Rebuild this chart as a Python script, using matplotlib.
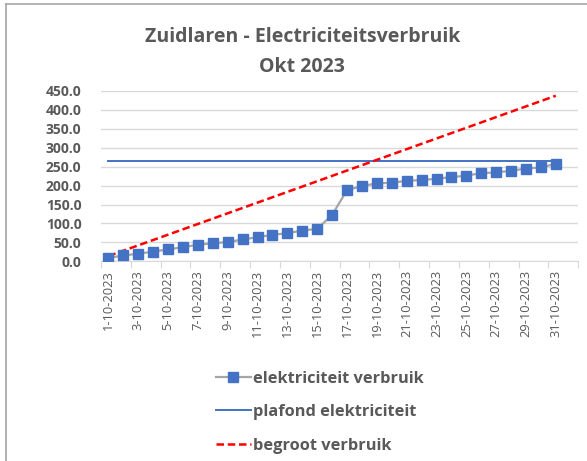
import numpy as np
import matplotlib.pyplot as plt
from matplotlib.lines import Line2D

plt.rcParams['font.family'] = ['Open Sans', 'DejaVu Sans']

# categories: 1-10-2023 .. 1-11-2023 (last one empty)
dagen = ['%d-10-2023' % d for d in range(1, 32)] + ['1-11-2023']

verbruik = [8.8, 15.8, 20.0, 26.0, 31.5, 37.6, 43.8, 48.0, 50.8, 57.8,
            64.0, 70.0, 74.4, 81.4, 85.8, 122.6, 188.0, 198.7, 205.7, 207.5,
            212.7, 214.5, 218.0, 222.4, 226.0, 233.0, 234.6, 239.0, 245.0,
            247.8, 257.4]
plafond = [266.0] * 31
begroot = [14.1, 28.2, 42.3, 56.4, 70.5, 84.6, 98.7, 112.8, 126.9, 141.0,
           155.1, 169.2, 183.3, 197.4, 211.5, 225.6, 239.7, 253.8, 267.9, 282.0,
           296.1, 310.2, 324.3, 338.4, 352.5, 366.6, 380.7, 394.8, 408.9, 423.0,
           437.1]

grijs = '#595959'

fig = plt.figure(figsize=(5.87, 4.61), dpi=100)
ax = fig.add_axes([0.172, 0.433, 0.813, 0.370])

x = np.arange(len(verbruik))
ax.plot(x, verbruik, color='#A5A5A5', lw=1.6, marker='s', ms=6.5,
        mfc='#4472C4', mec='#4472C4', label='elektriciteit verbruik', zorder=3)
ax.plot(x, plafond, color='#4472C4', lw=1.4, label='plafond elektriciteit', zorder=2)
ax.plot(x, begroot, color='#FF0000', lw=1.8, ls=(0, (3, 1.5)),
        label='begroot verbruik', zorder=2)

ax.set_xlim(-0.5, len(dagen) - 0.5)
ax.set_ylim(0, 450)
ax.set_yticks(np.arange(0, 451, 50))
ax.set_yticklabels(['%.1f' % v for v in np.arange(0, 451, 50)],
                   fontweight='bold', fontsize=10, color=grijs)
ax.tick_params(axis='y', length=0, pad=14)
ax.grid(axis='y', color='#D9D9D9', lw=1)
ax.set_axisbelow(True)

# tick marks between categories, labels every 2nd day
ax.set_xticks(np.arange(-0.5, len(dagen), 2))
ax.set_xticklabels([])
ax.set_xticks(np.arange(0, len(dagen), 2), minor=True)
ax.set_xticklabels(dagen[::2], minor=True, rotation=90, fontsize=9.3, color=grijs)
ax.tick_params(axis='x', which='major', length=5, color='#D9D9D9')
ax.tick_params(axis='x', which='minor', length=0, pad=6)

for s in ['top', 'right', 'left']:
    ax.spines[s].set_visible(False)
ax.spines['bottom'].set_color('#D9D9D9')

fig.text(0.515, 0.92, 'Zuidlaren - Electriciteitsverbruik', ha='center', va='center',
         fontsize=14, fontweight='bold', color=grijs)
fig.text(0.515, 0.855, 'Okt 2023', ha='center', va='center',
         fontsize=14, fontweight='bold', color=grijs)

leg = fig.legend(loc='upper left', bbox_to_anchor=(0.343, 0.228), frameon=False,
                 handlelength=2.1, handletextpad=0.15, labelspacing=1.07,
                 numpoints=1, prop={'size': 11.8, 'weight': 'bold'})
for t in leg.get_texts():
    t.set_color(grijs)

# chart border (top and left visible)
fig.add_artist(Line2D([0.011, 0.011], [0, 0.992], color='#A6A6A6', lw=1.2))
fig.add_artist(Line2D([0.011, 1], [0.992, 0.992], color='#A6A6A6', lw=1.2))

fig.savefig('out.png', dpi=100)
